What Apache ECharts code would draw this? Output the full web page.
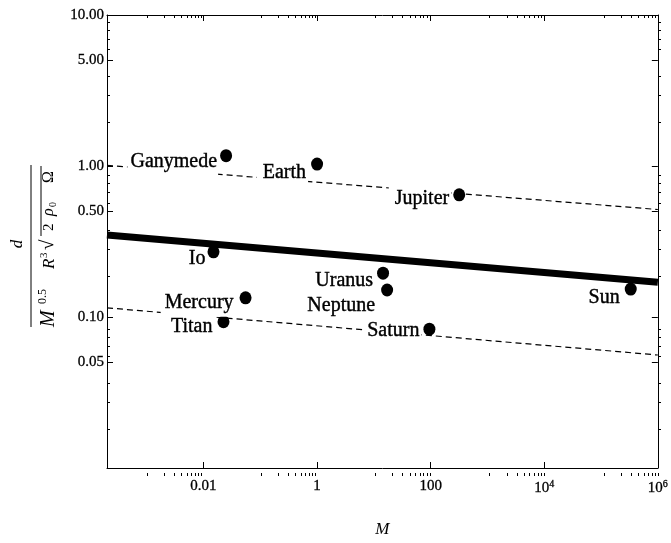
<!DOCTYPE html>
<html>
<head>
<meta charset="utf-8">
<script src="https://cdn.jsdelivr.net/npm/echarts@6/dist/echarts.min.js"></script>
<style>
  html, body { margin: 0; padding: 0; background: #fff; }
  #chart { width: 671px; height: 543px; }
</style>
</head>
<body>
<div id="chart"></div>
<script>
// Plot range (log-log)
const XMIN = 2e-4, XMAX = 1e6;
const YMIN = 0.01, YMAX = 10;

// Bodies: mass M (Earth masses) and normalised quantity
const bodies = ['Ganymede', 'Earth', 'Jupiter', 'Io', 'Uranus', 'Neptune', 'Mercury', 'Titan', 'Saturn', 'Sun'];
const masses = [0.025, 1, 318, 0.015, 14.5, 17.1, 0.055, 0.0225, 95, 333000];
const ratios = [1.17, 1.03, 0.644, 0.270, 0.195, 0.151, 0.134, 0.093, 0.083, 0.153];

// Power-law lines, evaluated at both ends of the M range
const fitX = [XMIN, XMAX];
const mainFit = [0.349, 0.170];
const upperFit = [1.01, 0.515];
const lowerFit = [0.115, 0.056];

// Tick values
const xLabelTicks = [0.01, 1, 100, 1e4, 1e6];
const yLabelTicks = [0.05, 0.1, 0.5, 1, 5, 10];
const xMinorBase = [1e-3, 1e-1, 1e1, 1e3, 1e5];
const yMinorBase = [0.01, 0.1, 1];
const xMinorMult = [1, 2, 3, 4, 5, 6, 7, 8, 9];
const yMinorMult = [2, 3, 4, 6, 7, 8, 9];

const xMinorTicks = [];
xMinorBase.forEach(b => xMinorMult.forEach(m => xMinorTicks.push(+(m * b).toPrecision(6))));
const yMinorTicks = [];
yMinorBase.forEach(b => yMinorMult.forEach(m => yMinorTicks.push(+(m * b).toPrecision(6))));

// Label placement around each dot
const labelPlace = {
  Ganymede: { distance: 2, dy: 6.5, padding: [2, 1, 9, 3] },
  Earth:    { distance: 3, dy: 9,   padding: [2, 2, 4, 6] },
  Jupiter:  { distance: 2, dy: 4,   padding: [2, 2, 2, 6] },
  Io:       { distance: 1, dy: 7,   padding: [0, 1, 2, 2] },
  Uranus:   { distance: 2, dy: 8,   padding: [2, 2, 2, 2] },
  Neptune:  { distance: 4, dy: 16,  padding: [2, 2, 2, 2] },
  Mercury:  { distance: 3, dy: 5,   padding: [2, 3, 6, 4] },
  Titan:    { distance: 3, dy: 5,   padding: [4, 2, 2, 4] },
  Saturn:   { distance: 2, dy: 2,   padding: [2, 2, 4, 4] },
  Sun:      { distance: 3, dy: 9,   padding: [2, 2, 2, 2] }
};

const SERIF = '"Liberation Serif", "DejaVu Serif", serif';
const BLACK = '#000';

const gridBox = { left: 107, right: 10, top: 15, bottom: 67 };

function baseAxis(min, max, gridIndex, position) {
  return {
    type: 'log', logBase: 10, min: min, max: max, gridIndex: gridIndex, position: position,
    splitLine: { show: false },
    axisLine: { show: gridIndex === 0, onZero: false, lineStyle: { color: BLACK, width: 1 } },
    axisLabel: { show: false },
    axisTick: { show: true, inside: true, length: 6, lineStyle: { color: BLACK, width: 1 } }
  };
}

function xFormatter(v) {
  if (v >= 1e4) return '10{sup|' + Math.round(Math.log10(v)) + '}';
  return String(v);
}

const xMain = baseAxis(XMIN, XMAX, 0, 'bottom');
xMain.axisTick.customValues = xLabelTicks;
xMain.axisLabel = {
  show: true, customValues: xLabelTicks, margin: 11, formatter: xFormatter,
  color: BLACK, fontFamily: SERIF, fontSize: 15, textBorderColor: BLACK, textBorderWidth: 0.3,
  rich: { sup: { fontFamily: SERIF, fontSize: 10, color: BLACK, padding: [0, 0, 9, 0] } }
};
xMain.name = 'M';
xMain.nameLocation = 'middle';
xMain.nameGap = 53;
xMain.nameTextStyle = { fontFamily: SERIF, fontStyle: 'italic', fontSize: 17, color: BLACK };

const xTop = baseAxis(XMIN, XMAX, 0, 'top');
xTop.axisTick.customValues = xLabelTicks;

const xMinorBottom = baseAxis(XMIN, XMAX, 1, 'bottom');
xMinorBottom.axisTick.customValues = xMinorTicks;
xMinorBottom.axisTick.length = 3;
const xMinorTop = baseAxis(XMIN, XMAX, 1, 'top');
xMinorTop.axisTick.customValues = xMinorTicks;
xMinorTop.axisTick.length = 3;

const yMain = baseAxis(YMIN, YMAX, 0, 'left');
yMain.axisTick.customValues = yLabelTicks;
yMain.axisLabel = {
  show: true, customValues: yLabelTicks, margin: 3,
  formatter: v => Number(v).toFixed(2),
  color: BLACK, fontFamily: SERIF, fontSize: 15, textBorderColor: BLACK, textBorderWidth: 0.3
};
const yRight = baseAxis(YMIN, YMAX, 0, 'right');
yRight.axisTick.customValues = yLabelTicks;

const yMinorLeft = baseAxis(YMIN, YMAX, 1, 'left');
yMinorLeft.axisTick.customValues = yMinorTicks;
yMinorLeft.axisTick.length = 3;
const yMinorRight = baseAxis(YMIN, YMAX, 1, 'right');
yMinorRight.axisTick.customValues = yMinorTicks;
yMinorRight.axisTick.length = 3;

function fitLine(vals, width, dashed) {
  return {
    type: 'line', xAxisIndex: 0, yAxisIndex: 0,
    data: fitX.map((x, i) => [x, vals[i]]),
    symbol: 'none', silent: true, z: 2,
    lineStyle: { color: BLACK, width: width, type: dashed ? [6, 4] : 'solid', cap: 'butt', opacity: 1 }
  };
}

const points = bodies.map((name, i) => {
  const p = labelPlace[name];
  return {
    name: name,
    value: [masses[i], ratios[i]],
    label: { distance: p.distance, offset: [0, p.dy], padding: p.padding }
  };
});

const option = {
  animation: false,
  backgroundColor: '#fff',
  grid: [Object.assign({}, gridBox), Object.assign({}, gridBox)],
  xAxis: [xMain, xTop, xMinorBottom, xMinorTop],
  yAxis: [yMain, yRight, yMinorLeft, yMinorRight],
  series: [
    fitLine(upperFit, 1.2, true),
    fitLine(lowerFit, 1.2, true),
    fitLine(mainFit, 7, false),
    {
      type: 'scatter', xAxisIndex: 0, yAxisIndex: 0, z: 5,
      symbol: 'circle', symbolSize: [12, 13],
      itemStyle: { color: BLACK, opacity: 1 },
      emphasis: { disabled: true },
      label: {
        show: true, position: 'left', formatter: '{b}',
        fontFamily: SERIF, fontSize: 20, lineHeight: 20, color: BLACK,
        textBorderColor: BLACK, textBorderWidth: 0.4,
        backgroundColor: '#fff'
      },
      data: points
    }
  ],
  graphic: [{
    type: 'group', x: 0, y: 327, rotation: Math.PI / 2, silent: true,
    children: [
      { type: 'line', shape: { x1: 0, y1: 31, x2: 162, y2: 31 }, style: { stroke: BLACK, lineWidth: 1 } },
      { type: 'text', style: { text: 'd', x: 83, y: 17.5, align: 'center', verticalAlign: 'middle',
          font: 'italic 17px ' + SERIF, fill: BLACK } },
      { type: 'text', style: { text: 'M', x: 0, y: 49, align: 'left', verticalAlign: 'middle',
          font: 'italic 20px ' + SERIF, fill: BLACK } },
      { type: 'text', style: { text: '0.5', x: 23, y: 43, align: 'left', verticalAlign: 'middle',
          font: '12px ' + SERIF, fill: BLACK } },
      { type: 'text', style: { text: 'R', x: 58, y: 50, align: 'left', verticalAlign: 'middle',
          font: 'italic 17px ' + SERIF, fill: BLACK } },
      { type: 'text', style: { text: '3', x: 69, y: 44, align: 'left', verticalAlign: 'middle',
          font: '11px ' + SERIF, fill: BLACK } },
      { type: 'text', style: { text: '\u221A', x: 77, y: 48, align: 'left', verticalAlign: 'middle',
          font: '19px ' + SERIF, fill: BLACK } },
      { type: 'line', shape: { x1: 91, y1: 41, x2: 161, y2: 41 }, style: { stroke: BLACK, lineWidth: 1 } },
      { type: 'text', style: { text: '2', x: 96, y: 49, align: 'left', verticalAlign: 'middle',
          font: '15px ' + SERIF, fill: BLACK } },
      { type: 'text', style: { text: '\u03C1', x: 111, y: 49, align: 'left', verticalAlign: 'middle',
          font: 'italic 16px ' + SERIF, fill: BLACK } },
      { type: 'text', style: { text: '0', x: 120, y: 53, align: 'left', verticalAlign: 'middle',
          font: '10px ' + SERIF, fill: BLACK } },
      { type: 'text', style: { text: '\u03A9', x: 144, y: 49, align: 'left', verticalAlign: 'middle',
          font: '16px ' + SERIF, fill: BLACK } }
    ]
  }]
};

const chart = echarts.init(document.getElementById('chart'), null, { renderer: 'canvas' });
chart.setOption(option);
</script>
</body>
</html>
